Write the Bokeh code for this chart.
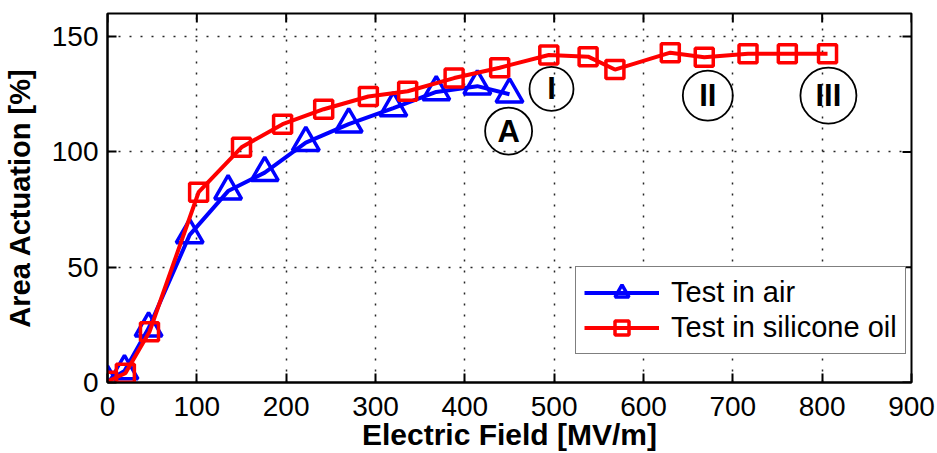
import math
from bokeh.plotting import figure
from bokeh.models import Range1d, FixedTicker, Legend, LegendItem
from bokeh.embed import file_html
from bokeh.resources import INLINE
from bokeh.core.properties import value

# ---- data ----
air_field = [0, 19, 46, 92, 135, 176, 222, 270, 320, 368, 414, 450]
air_area = [0.5, 5, 23.5, 64, 83, 91, 104, 112, 119, 126, 128.5, 125]

oil_field = [0, 20, 47, 102, 150, 196, 242, 292, 336, 388, 439, 494, 538, 568,
             630, 668, 717, 761, 806]
oil_area = [0.5, 4, 22, 82.5, 102, 112, 118.5, 124, 126.3, 132, 136.5, 142,
            141.3, 135.7, 143, 141, 142.5, 142.5, 142.5]

x_ticks = [0, 100, 200, 300, 400, 500, 600, 700, 800, 900]
y_ticks = [0, 50, 100, 150]
x_max = 900
y_max = 160

ann_labels = ["A", "I", "II", "III"]
ann_x = [449, 497, 672, 807]
ann_y = [109, 127.3, 124.4, 124.4]

x_title = "Electric Field [MV/m]"
y_title = "Area Actuation [%]"

FONT = "Liberation Sans"

p = figure(width=937, height=453, output_backend="svg", toolbar_location=None,
           x_range=Range1d(0, x_max), y_range=Range1d(0, y_max),
           min_border_left=107, min_border_right=26, min_border_top=13,
           min_border_bottom=71)
p.background_fill_color = "white"
p.border_fill_color = "white"
p.outline_line_color = "black"
p.outline_line_width = 2

# main axes
for ax in (p.xaxis[0], p.yaxis[0]):
    ax.major_tick_in = 9
    ax.major_tick_out = 0
    ax.minor_tick_in = 0
    ax.minor_tick_out = 0
    ax.axis_line_width = 2
    ax.major_tick_line_width = 2
    ax.major_label_text_font = FONT
    ax.major_label_text_font_size = "28px"
    ax.major_label_text_color = "black"
    ax.axis_label_text_font = FONT
    ax.axis_label_text_font_style = "bold"
    ax.axis_label_text_color = "black"

p.xaxis[0].ticker = FixedTicker(ticks=x_ticks)
p.yaxis[0].ticker = FixedTicker(ticks=y_ticks)
p.xaxis[0].axis_label = x_title
p.yaxis[0].axis_label = y_title
p.xaxis[0].axis_label_text_font_size = "30px"
p.yaxis[0].axis_label_text_font_size = "29px"
p.xaxis[0].major_label_standoff = 14
p.xaxis[0].axis_label_standoff = -1
p.yaxis[0].major_label_standoff = 9
p.yaxis[0].axis_label_standoff = 13

# mirrored inward ticks on the top and right of the box
p.ray(x=x_ticks, y=y_max, length=9, length_units="screen", angle=-math.pi / 2,
      line_color="black", line_width=2)
p.ray(x=x_max, y=y_ticks, length=9, length_units="screen", angle=math.pi,
      line_color="black", line_width=2)

# grid
p.xgrid.ticker = FixedTicker(ticks=x_ticks)
p.ygrid.ticker = FixedTicker(ticks=y_ticks)
for g in (p.xgrid[0], p.ygrid[0]):
    g.grid_line_color = "black"
    g.grid_line_alpha = 0.85
    g.grid_line_width = 1.5
    g.grid_line_dash = "2 9"

# series
l_air = p.line(air_field, air_area, line_color="#0000FF", line_width=4)
s_air = p.scatter(air_field, air_area, marker="triangle", size=27,
                  line_color="#0000FF", line_width=3.5, fill_color=None)
l_oil = p.line(oil_field, oil_area, line_color="#FF0000", line_width=4)
s_oil = p.scatter(oil_field, oil_area, marker="square", size=18,
                  line_color="#FF0000", line_width=3.5, fill_color=None)

# annotations (circled labels)
p.scatter(ann_x, ann_y, marker="circle", size=[47, 44, 50, 56],
          line_color="black", line_width=1.8, fill_color=None)
p.text(ann_x, ann_y, text=ann_labels, text_align="center", text_baseline="middle",
       text_font=value(FONT), text_font_size="31px", text_font_style="bold",
       text_color="black")

legend = Legend(items=[LegendItem(label="Test in air", renderers=[l_air, s_air]),
                       LegendItem(label="Test in silicone oil", renderers=[l_oil, s_oil])],
                location=(468, 28))
legend.label_text_font = FONT
legend.label_text_font_size = "29px"
legend.label_text_color = "black"
legend.glyph_width = 75
legend.glyph_height = 35
legend.label_height = 35
legend.spacing = 0
legend.padding = 8
legend.margin = 0
legend.label_standoff = 12
legend.border_line_color = "black"
legend.border_line_width = 1.5
legend.background_fill_color = "white"
legend.background_fill_alpha = 1.0
p.add_layout(legend)

open("out.html", "w").write(file_html(p, INLINE))
